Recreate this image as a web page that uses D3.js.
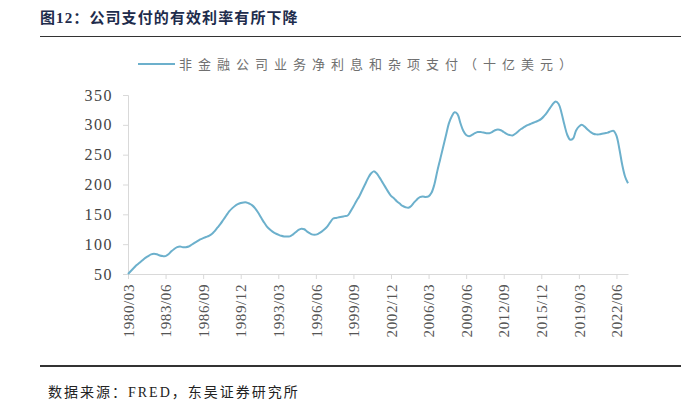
<!DOCTYPE html>
<html>
<head>
<meta charset="utf-8">
<script src="https://cdn.jsdelivr.net/npm/d3@7"></script>
<style>
body { margin: 0; background: #fff; }
svg text { font-family: "Liberation Serif", "Noto Sans CJK SC", serif; }
</style>
</head>
<body>
<svg id="chart" width="691" height="408"></svg>
<script>
// quarterly values, 1980Q1 .. 2023Q2 (billion USD)
var startYear = 1980;
var values = [
	50, 55, 60, 65,      // 1980
	69, 73, 77, 80,      // 1981
	83, 84, 83, 81,      // 1982
	80, 80, 83, 88,      // 1983
	92, 95, 96, 95,      // 1984
	95, 96, 99, 102,     // 1985
	105, 108, 110, 112,  // 1986
	114, 117, 122, 128,  // 1987
	134, 141, 148, 155,  // 1988
	160, 164, 167, 169,  // 1989
	170, 170, 168, 165,  // 1990
	160, 153, 145, 137,  // 1991
	130, 125, 121, 118,  // 1992
	116, 114, 113, 113,  // 1993
	113, 116, 120, 124,  // 1994
	126, 125, 121, 118,  // 1995
	116, 116, 118, 121,  // 1996
	125, 130, 137, 143,  // 1997
	144, 145, 146, 147,  // 1998
	148, 155, 163, 172,  // 1999
	180, 190, 200, 210,  // 2000
	218, 222, 219, 212,  // 2001
	204, 196, 188, 181,  // 2002
	177, 172, 168, 164,  // 2003
	162, 161, 164, 170,  // 2004
	175, 179, 180, 179,  // 2005
	180, 186, 200, 222,  // 2006
	242, 262, 282, 302,  // 2007
	314, 321, 318, 303,  // 2008
	290, 283, 281, 283,  // 2009
	286, 288, 288, 287,  // 2010
	286, 286, 288, 291,  // 2011
	292, 291, 288, 285,  // 2012
	283, 282, 285, 289,  // 2013
	293, 296, 299, 301,  // 2014
	303, 305, 307, 310,  // 2015
	315, 321, 328, 335,  // 2016
	339, 335, 320, 300,  // 2017
	283, 275, 277, 290,  // 2018
	297, 300, 297, 292,  // 2019
	288, 285, 284, 284,  // 2020
	285, 286, 287, 289,  // 2021
	290, 282, 260, 233,  // 2022
	213, 202             // 2023
];
var yTicks = [50, 100, 150, 200, 250, 300, 350];
var xTickStep = 13; // one label every 13 quarters
var titleText = "图12：公司支付的有效利率有所下降";
var legendText = "非金融公司业务净利息和杂项支付（十亿美元）";
var sourceText = "数据来源：FRED，东吴证券研究所";

var labelOf = function(i)
{
	var y = startYear + Math.floor(i / 4);
	var m = (i % 4 + 1) * 3;
	return y + "/" + (m < 10 ? "0" + m : m);
};

var svg = d3.select("#chart");

var x = d3.scaleLinear().domain([0, values.length - 1]).range([128, 628]);
var y = d3.scaleLinear().domain([50, 350]).range([274, 95]);

// title
svg.append("text")
	.text(titleText)
	.attr("x", 40)
	.attr("y", 23)
	.attr("fill", "#1e2c4c")
	.attr("font-size", "15px")
	.attr("font-weight", "bold")
	.attr("letter-spacing", "1.1px");

svg.append("line")
	.attr("x1", 40).attr("x2", 681)
	.attr("y1", 36.5).attr("y2", 36.5)
	.attr("stroke", "#333")
	.attr("stroke-width", 1);

// legend
svg.append("line")
	.attr("x1", 138).attr("x2", 175)
	.attr("y1", 64).attr("y2", 64)
	.attr("stroke", "#6cb0cc")
	.attr("stroke-width", 2);

svg.append("text")
	.text(legendText)
	.attr("x", 179)
	.attr("y", 69)
	.attr("fill", "#707070")
	.attr("font-size", "13px")
	.attr("letter-spacing", "6px");

// y axis
var yAxis = svg.append("g")
	.attr("transform", "translate(128,0)")
	.call(d3.axisLeft(y).tickValues(yTicks).tickSize(5).tickPadding(10));

yAxis.select(".domain").attr("stroke", "#d9d9d9");
yAxis.selectAll(".tick line").attr("stroke", "#d9d9d9");
yAxis.selectAll(".tick text")
	.attr("fill", "#444")
	.attr("font-size", "16px")
	.attr("letter-spacing", "1.5px")
	.style("font-family", "Liberation Serif");

// x axis
var xTickIdx = d3.range(0, values.length, xTickStep);
var xAxis = svg.append("g")
	.attr("transform", "translate(0,274)")
	.call(d3.axisBottom(x).tickValues(xTickIdx).tickFormat(labelOf).tickSize(5).tickSizeOuter(0));

xAxis.select(".domain").attr("stroke", "#d9d9d9");
xAxis.selectAll(".tick line").attr("stroke", "#d9d9d9");
xAxis.selectAll(".tick text")
	.attr("fill", "#555")
	.attr("font-size", "15px")
	.attr("letter-spacing", "0.6px")
	.style("font-family", "Liberation Serif")
	.attr("text-anchor", "end")
	.attr("dy", "0.35em")
	.attr("transform", "translate(0,10) rotate(-90)")
	.attr("x", 0)
	.attr("y", 0);

// series
var line = d3.line()
	.x(function(d, i) { return x(i); })
	.y(function(d) { return y(d); })
	.curve(d3.curveCatmullRom.alpha(0.5));

svg.append("path")
	.datum(values)
	.attr("fill", "none")
	.attr("stroke", "#6cb0cc")
	.attr("stroke-width", 2)
	.attr("d", line);

// bottom rule and source
svg.append("line")
	.attr("x1", 40).attr("x2", 681)
	.attr("y1", 366).attr("y2", 366)
	.attr("stroke", "#333")
	.attr("stroke-width", 2);

svg.append("text")
	.text(sourceText)
	.attr("x", 48)
	.attr("y", 397)
	.attr("fill", "#222")
	.attr("font-size", "14px")
	.attr("letter-spacing", "2px");
</script>
</body>
</html>
